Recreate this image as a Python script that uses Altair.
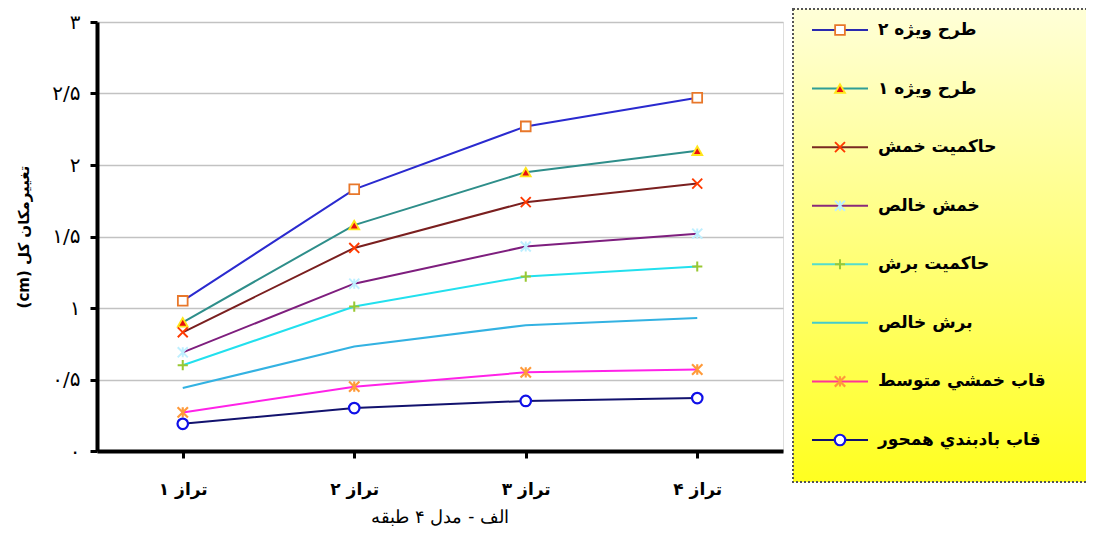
import altair as alt
import pandas as pd

# ---------------- data ----------------
series = ["طرح ویژه ۲", "طرح ویژه ۱", "حاکمیت خمش", "خمش خالص",
          "حاکمیت برش", "برش خالص", "قاب خمشي متوسط", "قاب بادبندي همحور"]
levels = ["تراز ۱", "تراز ۲", "تراز ۳", "تراز ۴"]

v_tarh2 = [1.05, 1.83, 2.27, 2.47]
v_tarh1 = [0.90, 1.58, 1.95, 2.10]
v_hakemiat_khamesh = [0.83, 1.42, 1.74, 1.87]
v_khamesh_khales = [0.69, 1.17, 1.43, 1.52]
v_hakemiat_boresh = [0.60, 1.01, 1.22, 1.29]
v_boresh_khales = [0.44, 0.73, 0.88, 0.93]
v_ghab_khamshi = [0.27, 0.45, 0.55, 0.57]
v_ghab_badbandi = [0.19, 0.30, 0.35, 0.37]
values = [v_tarh2, v_tarh1, v_hakemiat_khamesh, v_khamesh_khales,
          v_hakemiat_boresh, v_boresh_khales, v_ghab_khamshi, v_ghab_badbandi]

y_ticks = [0, 0.5, 1, 1.5, 2, 2.5, 3]
y_tick_labels = ["۰", "۰/۵", "۱", "۱/۵", "۲", "۲/۵", "۳"]

y_title = "(cm) تغییرمکان کل"
chart_title = "الف - مدل ۴ طبقه"

# ---------------- styles ----------------
line_colors = ["#2A2ACF", "#2E8E8A", "#7A1F1F", "#7E1E7E",
               "#22E0EE", "#33B2E2", "#FF22E8", "#12126E"]
legend_line_colors = ["#2A2AB0", "#2E9E96", "#7A2A20", "#8A2A7A",
                      "#55DDCC", "#44CCCC", "#FF3399", "#12126E"]
marker_shapes = ["square", "triangle-up", "M-1,-1L1,1M-1,1L1,-1",
                 "M-1,-1L1,1M-1,1L1,-1M0,-1L0,1", "M-1,0L1,0M0,-1L0,1",
                 "circle", "M-1,-1L1,1M-1,1L1,-1M0,-1L0,1", "circle"]
marker_fills = ["white", "#E81010", "transparent", "transparent",
                "transparent", "transparent", "transparent", "white"]
marker_strokes = ["#E8772A", "#FFE61A", "#FF3A00", "#BDEFFF",
                  "#99C833", "transparent", "#FF9A3A", "#1010E8"]
marker_widths = [1.8, 2.2, 3, 2, 2, 0, 2.5, 2.2]
marker_sizes = [95, 110, 110, 70, 110, 0, 120, 100]

rows = []
for s, vals in zip(series, values):
    for lv, v in zip(levels, vals):
        rows.append({"series": s, "level": lv, "value": v})
df = pd.DataFrame(rows)

leg_df = pd.DataFrame({"series": series})
box_df = pd.DataFrame({"k": [0]})

W, H = 686, 429
FONT = "DejaVu Sans"

label_expr = " : ".join(
    [f"datum.value == {v} ? '{l}'" for v, l in zip(y_ticks, y_tick_labels)]
) + " : ''"

x_enc = alt.X("level:N", sort=levels,
              scale=alt.Scale(type="point", padding=0.5),
              axis=alt.Axis(title=None, labelFont=FONT, labelFontWeight="bold",
                            labelFontSize=17, labelColor="black", labelAngle=0,
                            labelPadding=23, domainColor="black", domainWidth=4,
                            tickColor="black", tickWidth=3, tickSize=7, grid=False))
y_enc = alt.Y("value:Q",
              scale=alt.Scale(domain=[0, 3], nice=False, zero=True),
              axis=alt.Axis(values=y_ticks, labelExpr=label_expr, title=y_title,
                            labelFont=FONT, labelFontSize=20, labelColor="black",
                            labelPadding=10, titleFont=FONT, titleFontSize=15,
                            titleFontWeight="bold", titleColor="black",
                            titlePadding=20, domainColor="black", domainWidth=4,
                            tickColor="black", tickWidth=3, tickSize=7,
                            grid=True, gridColor="#C2C2C2", gridWidth=1.5))

color_scale = alt.Scale(domain=series, range=line_colors)

lines = alt.Chart(df).mark_line(strokeWidth=2).encode(
    x=x_enc, y=y_enc,
    color=alt.Color("series:N", scale=color_scale, legend=None),
    detail="series:N",
)

points = alt.Chart(df).mark_point(opacity=1).encode(
    x=alt.X("level:N", sort=levels),
    y="value:Q",
    shape=alt.Shape("series:N", scale=alt.Scale(domain=series, range=marker_shapes), legend=None),
    fill=alt.Fill("series:N", scale=alt.Scale(domain=series, range=marker_fills), legend=None),
    stroke=alt.Stroke("series:N", scale=alt.Scale(domain=series, range=marker_strokes), legend=None),
    strokeWidth=alt.StrokeWidth("series:N", scale=alt.Scale(domain=series, range=marker_widths), legend=None),
    size=alt.Size("series:N", scale=alt.Scale(domain=series, range=marker_sizes), legend=None),
)

main = alt.layer(lines, points)

# ---------------- legend panel ----------------
gradient = alt.Gradient(
    gradient="linear",
    stops=[alt.GradientStop(color="#FFFFD8", offset=0),
           alt.GradientStop(color="#FFFF20", offset=1)],
    x1=0, x2=0, y1=0, y2=1,
)
box = alt.Chart(box_df).mark_rect(
    fill=gradient, stroke="#555555", strokeWidth=2, strokeDash=[2, 2]
).encode(x=alt.value(696), x2=alt.value(1000), y=alt.value(-13), y2=alt.value(460))

leg_y = alt.Y("series:N", sort=series,
              scale=alt.Scale(type="point", domain=series, range=[8, 418], padding=0),
              axis=None)

leg_lines = alt.Chart(leg_df).mark_rule(strokeWidth=2).encode(
    x=alt.value(715), x2=alt.value(771), y=leg_y,
    color=alt.Color("series:N", scale=alt.Scale(domain=series, range=legend_line_colors), legend=None),
)
leg_points = alt.Chart(leg_df).mark_point(opacity=1).encode(
    x=alt.value(743), y=leg_y,
    shape=alt.Shape("series:N", legend=None),
    fill=alt.Fill("series:N", legend=None),
    stroke=alt.Stroke("series:N", legend=None),
    strokeWidth=alt.StrokeWidth("series:N", legend=None),
    size=alt.Size("series:N", legend=None),
)
leg_text = alt.Chart(leg_df).mark_text(
    align="left", baseline="middle", font=FONT, fontWeight="bold",
    fontSize=17, color="black"
).encode(x=alt.value(781), y=leg_y, text="series:N")

legend_panel = alt.layer(box, leg_lines, leg_points, leg_text).resolve_scale(color="independent")

chart = alt.layer(main, legend_panel).resolve_scale(
    y="independent", color="independent"
).properties(
    width=W, height=H,
    autosize=alt.AutoSizeParams(type="none"),
    padding={"left": 89, "top": 14, "right": 303, "bottom": 79},
    title=alt.TitleParams(text=chart_title, orient="bottom", anchor="middle",
                          font="DejaVu Serif", fontSize=18, fontWeight="normal",
                          color="black", offset=12),
).configure_view(stroke=None).configure(background="white")

chart.save("out.html", embed_options={"renderer": "svg", "actions": False})
